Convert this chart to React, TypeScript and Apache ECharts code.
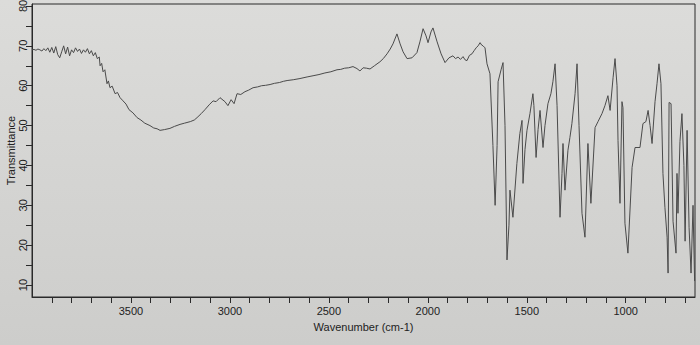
import React, { useEffect, useRef } from "react";
import * as echarts from "echarts";

// Wavenumber (cm-1) and transmittance (%)
const wavenumbers: number[] = [
  4000, 3990, 3980, 3970, 3960, 3950, 3940, 3930, 3920, 3910, 3900, 3890, 3880, 3870, 3860, 3850,
  3840, 3830, 3820, 3810, 3800, 3790, 3780, 3770, 3760, 3750, 3740, 3730, 3720, 3710, 3700, 3690,
  3680, 3670, 3660, 3656, 3648, 3641, 3632, 3621, 3614, 3606, 3595, 3580, 3568, 3555, 3540, 3525,
  3510, 3490, 3469, 3450, 3430, 3404, 3385, 3368, 3353, 3330,
  3303, 3280, 3252, 3230, 3200, 3180, 3166, 3145, 3126, 3105, 3085, 3070, 3050, 3040, 3025, 3010,
  2994, 2979, 2964, 2945, 2924, 2905, 2883, 2860, 2840, 2820, 2797, 2775,
  2750, 2730, 2711, 2680, 2646, 2610, 2580, 2550, 2520, 2490, 2459, 2440, 2420, 2400, 2378, 2358,
  2343, 2327, 2310, 2292, 2270, 2242, 2225, 2206, 2190, 2176, 2156,
  2140, 2125, 2105, 2080, 2055, 2040, 2024, 2009, 1999, 1984, 1974, 1953, 1933, 1913, 1893, 1873,
  1860, 1847, 1835, 1822, 1812, 1802, 1790, 1777, 1766, 1756, 1746, 1736, 1728, 1721, 1711, 1701,
  1686, 1671, 1660, 1650, 1645, 1630, 1620,
  1610, 1600, 1590, 1585, 1570, 1550, 1535, 1524, 1519, 1509, 1499, 1484, 1469, 1464, 1453, 1443,
  1433, 1418, 1408, 1393, 1378, 1368, 1357, 1347, 1332, 1322, 1317, 1307, 1292, 1282, 1272, 1256,
  1246, 1236, 1221, 1206, 1191, 1176, 1155, 1140, 1120, 1105, 1090, 1079, 1064, 1054, 1044, 1039,
  1029, 1019, 1014, 1004, 989, 968, 953, 928, 913, 898, 887, 877, 867, 852, 842, 832,
  822, 812, 802, 791, 786, 781, 771, 761, 746, 741, 736, 726, 716, 706, 700, 690,
  680, 670, 660, 652,
];
const transmittance: number[] = [
  69.0, 69.1, 68.9, 69.2, 69.0, 68.7, 69.3, 68.8, 69.5, 68.4, 69.6, 68.2, 69.8, 67.8, 67.0, 68.5,
  70.0, 68.0, 69.7, 67.5, 69.0, 68.3, 69.5, 68.6, 69.2, 68.1, 69.0, 68.4, 69.3, 68.0, 68.8, 67.5,
  68.3, 66.8, 67.2, 65.0, 65.6, 63.5, 64.0, 60.5, 61.2, 59.5, 59.9, 58.0, 58.3, 57.0, 56.2, 55.4,
  54.0, 53.2, 52.0, 51.4, 50.6, 50.0, 49.4, 49.2, 48.8, 49.0,
  49.3, 49.8, 50.3, 50.6, 51.0, 51.4, 52.0, 53.0, 54.0, 55.2, 56.2, 56.0, 57.0, 56.6, 56.0, 55.0,
  56.5, 55.5, 58.0, 57.8, 58.5, 58.9, 59.5, 59.7, 60.0, 60.1, 60.3, 60.6,
  60.8, 61.1, 61.3, 61.5, 61.8, 62.2, 62.5, 62.8, 63.2, 63.5, 64.0, 64.1, 64.4, 64.5, 64.8, 64.3,
  63.7, 64.5, 64.4, 64.2, 65.0, 66.0, 66.8, 68.0, 69.2, 70.5, 73.0,
  70.5, 68.5, 66.8, 67.0, 68.3, 71.0, 74.3, 72.5, 70.8, 73.5, 74.5, 71.0, 68.0, 65.8, 67.0, 67.5,
  66.8, 67.2, 66.6, 67.3, 66.5, 66.3, 67.6, 68.0, 68.8, 69.5, 70.0, 70.8, 70.2, 70.0, 69.5, 65.5,
  63.0, 45.0, 30.0, 45.0, 61.0, 64.0, 65.8,
  50.0, 16.3, 25.0, 33.8, 27.0, 40.5, 48.0, 51.3, 35.5, 44.0, 48.8, 53.0, 58.0, 55.0, 42.0, 49.0,
  53.8, 44.5, 50.0, 55.5, 58.0, 61.0, 65.5, 55.0, 27.0, 38.0, 45.5, 33.8, 43.8, 47.0, 50.5, 58.0,
  65.5, 50.0, 28.0, 22.0, 45.5, 30.5, 49.5, 51.0, 53.0, 55.0, 57.5, 53.8, 62.0, 66.8, 60.0, 46.3,
  30.5, 56.0, 54.5, 25.5, 18.0, 39.5, 44.5, 44.5, 50.5, 51.0, 53.8, 50.0, 45.5, 56.0, 60.5, 65.5,
  60.5, 38.0, 29.5, 22.0, 13.0, 55.8, 55.5, 26.0, 18.0, 38.0, 28.0, 46.0, 53.0, 40.0, 21.0, 48.8,
  24.5, 13.0, 30.0, 11.0,
];
const xTickValues: number[] = [
  700, 800, 900, 1000, 1100, 1200, 1300, 1400, 1500, 1600, 1700, 1800, 1900, 2000, 2100, 2200,
  2300, 2400, 2500, 2600, 2700, 2800, 2900, 3000, 3100, 3200, 3300, 3400, 3500, 3600, 3700, 3800, 3900,
];
const xLabelValues: number[] = [1000, 1500, 2000, 2500, 3000, 3500];
const yTickValues: number[] = [10, 15, 20, 25, 30, 35, 40, 45, 50, 55, 60, 65, 70, 75, 80];
const yLabelValues: number[] = [10, 20, 30, 40, 50, 60, 70, 80];

const FONT = "Liberation Sans, Arial, sans-serif";

export default function App() {
  const ref = useRef<HTMLDivElement>(null);
  useEffect(() => {
    if (!ref.current) return;
    const chart = echarts.init(ref.current, undefined, { renderer: "svg" });
    const data = wavenumbers.map((w, i) => [w, transmittance[i]]);
    chart.setOption({
      animation: false,
      backgroundColor: {
        type: "linear",
        x: 0,
        y: 0,
        x2: 0,
        y2: 1,
        colorStops: [
          { offset: 0, color: "#dcdcda" },
          { offset: 0.6, color: "#d3d3d1" },
          { offset: 1, color: "#cdcdcb" },
        ],
      },
      grid: {
        left: 32,
        right: 5,
        top: 4,
        bottom: 48,
        containLabel: false,
        outerBoundsMode: "none",
        show: true,
        borderColor: "#2a2a2a",
        borderWidth: 1,
        backgroundColor: "transparent",
      },
      xAxis: {
        type: "value",
        inverse: true,
        min: 650,
        max: 4000,
        name: "Wavenumber (cm-1)",
        nameLocation: "middle",
        nameGap: 24,
        nameMoveOverlap: false,
        nameTextStyle: { fontFamily: FONT, fontSize: 11, color: "#222" },
        axisLine: { lineStyle: { color: "#2a2a2a", width: 1 } },
        axisTick: {
          show: true,
          length: 6,
          inside: false,
          customValues: xTickValues,
          lineStyle: { color: "#2a2a2a" },
        },
        axisLabel: {
          customValues: xLabelValues,
          formatter: (v: number) => String(v),
          fontFamily: FONT,
          fontSize: 11,
          color: "#222",
          margin: 8,
        },
        splitLine: { show: false },
      },
      yAxis: {
        type: "value",
        min: 7,
        max: 80.5,
        name: "Transmittance",
        nameLocation: "middle",
        nameGap: 16,
        nameMoveOverlap: false,
        nameRotate: 90,
        nameTextStyle: { fontFamily: FONT, fontSize: 11, color: "#222" },
        axisLine: { show: true, lineStyle: { color: "#2a2a2a", width: 1 } },
        axisTick: {
          show: true,
          length: 6,
          inside: false,
          customValues: yTickValues,
          lineStyle: { color: "#2a2a2a" },
        },
        axisLabel: {
          customValues: yLabelValues,
          formatter: (v: number) => String(v),
          rotate: 90,
          fontFamily: FONT,
          fontSize: 11,
          color: "#222",
          margin: 4,
        },
        splitLine: { show: false },
      },
      series: [
        {
          type: "line",
          data,
          showSymbol: false,
          symbol: "none",
          lineStyle: { color: "#4a4a4a", width: 1 },
          clip: true,
        },
      ],
    });
    return () => chart.dispose();
  }, []);
  return (
    <div
      ref={ref}
      style={{ position: "fixed", left: 0, top: 0, width: 700, height: 345 }}
    />
  );
}
